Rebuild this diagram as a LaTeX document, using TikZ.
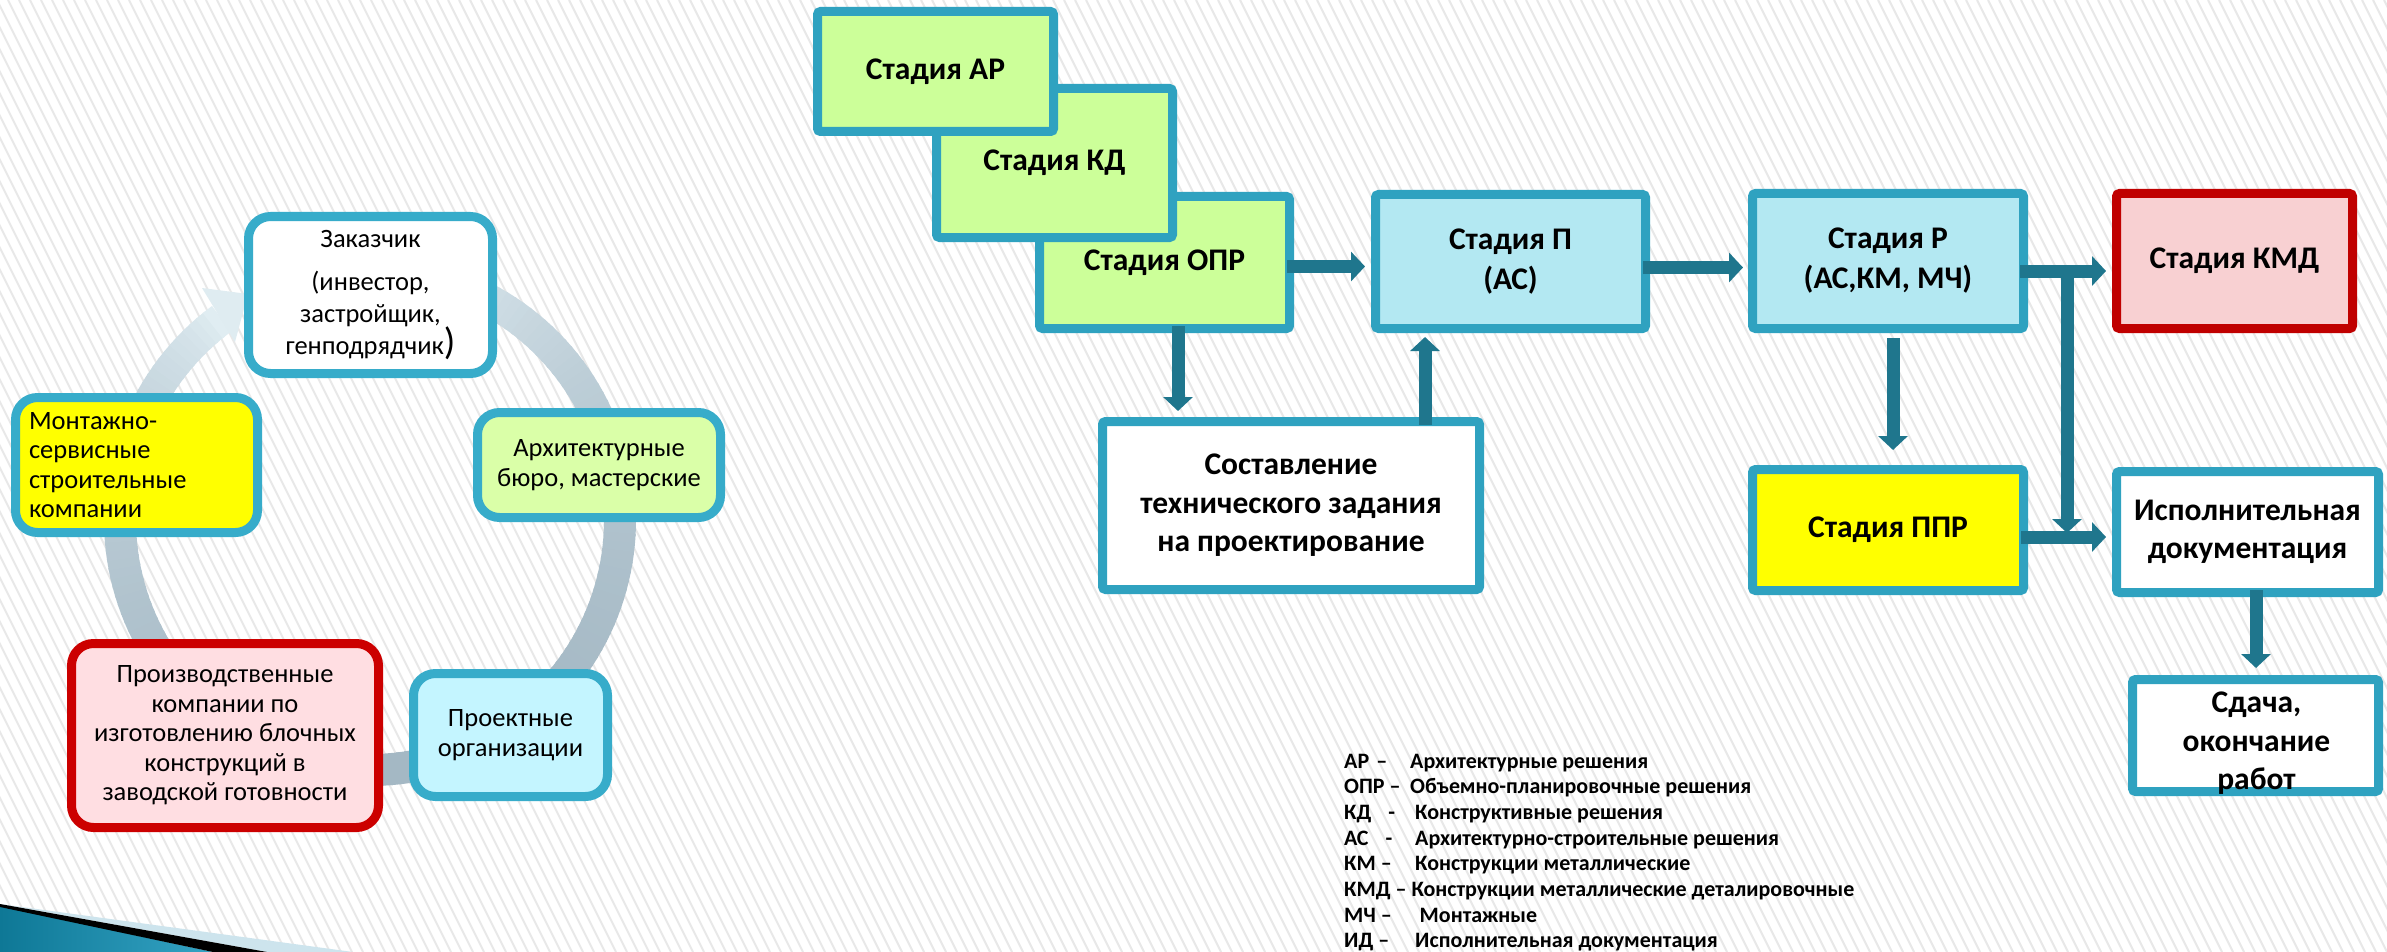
\documentclass[tikz,border=0pt]{standalone}
\usepackage{fontspec}
\setmainfont{Carlito}
\usetikzlibrary{arrows.meta,calc}
\definecolor{bordc}{RGB}{47,162,192}
\definecolor{bordl}{RGB}{55,172,202}
\definecolor{arrc}{RGB}{31,118,141}
\definecolor{greenf}{RGB}{204,255,153}
\definecolor{bluef}{RGB}{179,232,242}
\definecolor{pinkf}{RGB}{248,208,210}
\definecolor{redb}{RGB}{192,0,0}
\definecolor{yel}{RGB}{255,255,0}
\definecolor{larch}{RGB}{218,255,168}
\definecolor{lpink}{RGB}{255,222,226}
\definecolor{lred}{RGB}{204,0,0}
\definecolor{lcyan}{RGB}{196,245,255}
\definecolor{stripec}{RGB}{232,232,232}
\definecolor{ringL}{RGB}{228,240,245}
\definecolor{ringD}{RGB}{164,184,196}
\definecolor{tealD}{RGB}{14,120,150}
\definecolor{tealL}{RGB}{52,163,196}
\definecolor{paleb}{RGB}{205,228,237}
\lineskiplimit=-1000pt
\tikzset{
 rbox/.style={draw=bordc, line width=9pt, rounded corners=3pt, inner sep=0pt, align=center,
   font={\lineskiplimit=-1000pt\bfseries\fontsize{31.5}{38.5}\selectfont}},
 rtext/.style={inner sep=0pt, align=center,
   font={\lineskiplimit=-1000pt\bfseries\fontsize{31.5}{38.5}\selectfont}},
 lbox/.style={draw=bordl, line width=9pt, rounded corners=22pt, inner sep=0pt, align=center,
   font={\lineskiplimit=-1000pt\fontsize{26.5}{29.5}\selectfont}},
 arr/.style={draw=arrc, line width=13pt, -{Triangle[width=29pt,length=14pt]}},
 legend/.style={anchor=base west, inner sep=0pt, font={\bfseries\fontsize{22}{22}\selectfont}},
 stripe/.style={draw=stripec, line width=2pt},
}
\begin{document}
\begin{tikzpicture}[x=1pt,y=-1pt]
\useasboundingbox (0,0) rectangle (2387,952);
\fill[white] (0,0) rectangle (2387,952);
% background stripes
\begin{scope}
\clip (0,0) rectangle (2387,952);
\foreach \i in {0,...,262} \draw[stripe] ({\i*11-476},0) -- ++(476,952);
\end{scope}
% bottom-left decoration
\shade[left color=tealD, right color=tealL] (0,906) -- (213,952) -- (0,952) -- cycle;
\fill[paleb] (0,904) -- (353,952) -- (267,952) -- cycle;
\fill[black] (0,904) -- (267,952) -- (213,952) -- (0,907) -- cycle;
% ring arrow
\foreach \a in {-75,-73,...,231} {
  \pgfmathsetmacro\s{(\a+75)/306.5}
  \pgfmathsetmacro\p{100*(max(sin(180*\s),0.001))^0.55}
  \draw[line width=32pt, color=ringD!\p!ringL] ({370+250*cos(\a)},{520+250*sin(\a)}) arc[start angle=\a, end angle=\a+2.6, radius=250];
}
\fill[ringL!92!ringD] (202,288) -- (248,294) -- (235,342) -- cycle;
% left boxes
\node[lbox, fill=white, minimum width=244pt, minimum height=157pt,
  font={\lineskiplimit=-1000pt\fontsize{26.5}{32}\selectfont}] (zak) at (370.5,295)
  {Заказчик\\[11pt](инвестор,\\застройщик,\\генподрядчик{\fontsize{38}{32}\selectfont)}};
\node[lbox, fill=yel, minimum width=242pt, minimum height=135pt, align=left, text width=215pt] (mont) at (136.5,465)
  {Монтажно-\\сервисные\\строительные\\компании};
\node[lbox, fill=larch, minimum width=243pt, minimum height=105pt] (arch) at (599,465)
  {Архитектурные\\бюро, мастерские};
\node[lbox, draw=lred, fill=lpink, minimum width=307pt, minimum height=184pt] (proizv) at (225,735.5)
  {Производственные\\компании по\\изготовлению блочных\\конструкций в\\заводской готовности};
\node[lbox, fill=lcyan, minimum width=194pt, minimum height=123pt] (proekt) at (510.5,735)
  {Проектные\\организации};
% right boxes
\node[rbox, fill=greenf, minimum width=250pt, minimum height=132pt] (opr) at (1164.5,262.5) {Стадия ОПР};
\node[rbox, fill=greenf, minimum width=236pt, minimum height=149pt] (kd) at (1054.5,163) {Стадия КД};
\node[rbox, fill=greenf, minimum width=236pt, minimum height=120pt] (ar) at (935.5,71.5) {Стадия АР};
\node[rbox, fill=bluef, minimum width=270pt, minimum height=134pt,
  font={\lineskiplimit=-1000pt\bfseries\fontsize{31.5}{40}\selectfont}] (p) at (1510.5,261.5) {Стадия П\\(АС)};
\node[rbox, fill=bluef, minimum width=271pt, minimum height=135pt,
  font={\lineskiplimit=-1000pt\bfseries\fontsize{31.5}{40}\selectfont}] (r) at (1888,261) {Стадия Р\\(АС,КМ, МЧ)};
\node[rbox, draw=redb, fill=pinkf, minimum width=236pt, minimum height=135pt] (kmd) at (2234.5,261) {Стадия КМД};
\node[rbox, fill=white, minimum width=377pt, minimum height=168pt] (sost) at (1291,505.5)
  {Составление\\технического задания\\на проектирование};
\node[rbox, fill=yel, minimum width=271pt, minimum height=121pt] (ppr) at (1888,530) {Стадия ППР};
\node[rbox, fill=white, minimum width=262pt, minimum height=121pt] (isp) at (2247.5,532) {Исполнительная\\документация};
\node[rbox, fill=white, minimum width=246pt, minimum height=112pt] (sd) at (2255.5,735.5) {};
\node[rtext] (sdt) at ($(sd.center)+(1,8)$) {Сдача,\\окончание\\работ};
% connectors
\draw[arr] ($(opr.east)+(-7,4)$) -- ($(p.west)+(-6,5)$);
\draw[arr] ($(p.east)+(-7,6)$) -- ($(r.west)+(-5,6.5)$);
\draw[arr] ($(r.east)+(-8,10)$) -- ($(kmd.west)+(-6,10)$);
\coordinate (brtop) at ($(r.east)+(39,4)$);
\draw[arr] (brtop) -- ($(isp.west)+(-45,1)$);
\draw[arr] ($(ppr.east)+(-7,7)$) -- ($(isp.west)+(-6,5)$);
\draw[arr] ($(r.south)+(5,5)$) -- ($(ppr.north)+(5,-15)$);
\draw[arr] ($(opr.south)+(13.5,-7)$) -- ($(sost.north west)+(80,-6)$);
\draw[arr] ($(sost.north east)+(-59,8)$) -- ($(p.south west)+(54,4)$);
\draw[arr] ($(isp.south)+(8.5,-7)$) -- ($(sd.north)+(0.5,-7)$);
% legend
\node[legend] (l1) at (1344,768.0) {\makebox[66pt][l]{АР\hspace{7pt}–}Архитектурные решения};
\node[legend] (l2) at (1344,793.7) {\makebox[66pt][l]{ОПР –}Объемно-планировочные решения};
\node[legend] (l3) at (1344,819.4) {\makebox[71pt][l]{КД\hspace{17pt}-}Конструктивные решения};
\node[legend] (l4) at (1344,845.1) {\makebox[71pt][l]{АС\hspace{17pt}-}Архитектурно-строительные решения};
\node[legend] (l5) at (1344,870.8) {\makebox[71pt][l]{КМ –}Конструкции металлические};
\node[legend] (l6) at (1344,896.5) {КМД – Конструкции металлические деталировочные};
\node[legend] (l7) at (1344,922.2) {\makebox[75.5pt][l]{МЧ –}Монтажные};
\node[legend] (l8) at (1344,947.0) {\makebox[71pt][l]{ИД –}Исполнительная документация};
\end{tikzpicture}
\end{document}
